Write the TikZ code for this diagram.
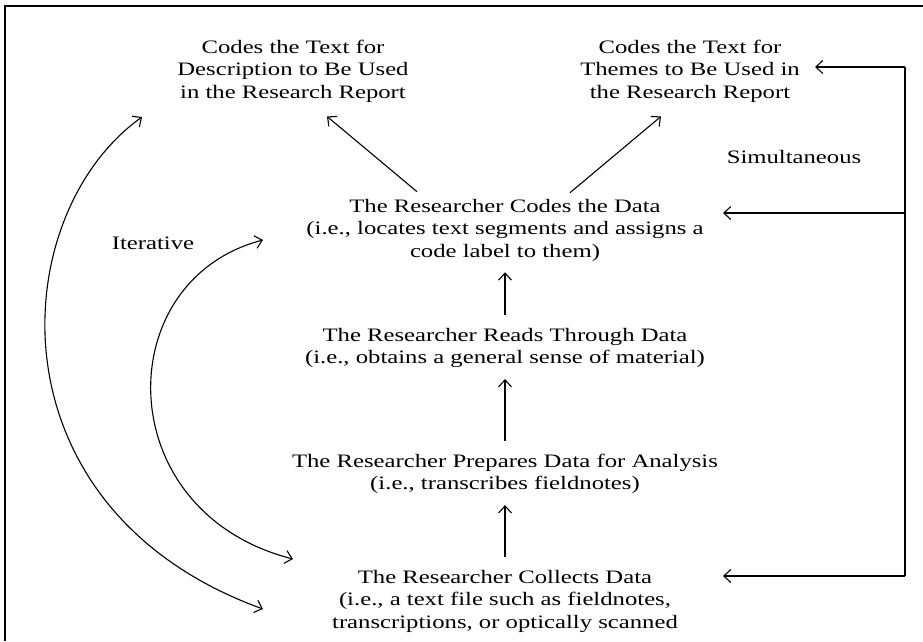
\documentclass[tikz,border=0pt]{standalone}
\usepackage{fontspec}
\setmainfont{Liberation Serif}[FakeStretch=1.3]
\usetikzlibrary{arrows.meta,calc,positioning}

\begin{document}
\begin{tikzpicture}[x=1pt,y=-1pt]
\useasboundingbox (0,0) rectangle (923,641);

\begin{scope}[every node/.style={align=center,inner sep=0pt,font=\fontsize{19}{22.5}\selectfont},barb/.style={-{Straight Barb[length=7pt,width=13pt]},line width=1.1pt},dbarb/.style={{Straight Barb[length=7pt,width=13pt]}-{Straight Barb[length=7pt,width=13pt]},line width=1.1pt}]
% frame
\draw[line width=1.6pt] (5,641) -- (5,6) -- (923,6);

% Nodes
\node (desc) at (293,71) {Codes the Text for\\Description to Be Used\\in the Research Report};
\node (themes) at (690,71) {Codes the Text for\\Themes to Be Used in\\the Research Report};
\node (codes) at (505,230) {The Researcher Codes the Data\\(i.e., locates text segments and assigns a\\code label to them)};
\node (reads) at (505,348) {The Researcher Reads Through Data\\(i.e., obtains a general sense of material)};
\node (prep) at (505,474) {The Researcher Prepares Data for Analysis\\(i.e., transcribes fieldnotes)};
\node (coll) at (505,601) {The Researcher Collects Data\\(i.e., a text file such as fieldnotes,\\transcriptions, or optically scanned};

\node (simul) at (794,157) {Simultaneous};
\node (iter) at (153,243) {Iterative};

% free ends
\coordinate (s1) at (905,67);
\coordinate (s2) at (905,213);
\coordinate (s3) at (905,576);
\coordinate (t1) at (815,67);
\coordinate (t2) at (723,213);
\coordinate (t3) at (723,576);
\coordinate (in1) at (263,240);
\coordinate (in2) at (293,559);
\coordinate (out1) at (142,117);
\coordinate (out2) at (263,609);

%arcs
\path (reads) edge[barb,shorten <=13pt,shorten >=11pt] (codes);
\path (prep) edge[barb,shorten <=13pt,shorten >=11pt] (reads);
\path (coll) edge[barb,shorten <=13pt,shorten >=11pt] (prep);

\path ([xshift=-88pt,yshift=7pt]codes.north) edge[barb] ([xshift=34pt,yshift=-14pt]desc.south);
\path ([xshift=65pt,yshift=6pt]codes.north) edge[barb] ([xshift=-29pt,yshift=-14pt]themes.south);

\draw[line width=1.1pt] (s1) -- (s3);
\path (s1) edge[barb] (t1);
\path (s2) edge[barb] (t2);
\path (s3) edge[barb] (t3);

\draw[dbarb] (in1) .. controls (109,280) and (109,512) .. (in2);
\draw[dbarb] (out1) .. controls (5,215) and (-13,509) .. (out2);

\end{scope}

\end{tikzpicture}
\end{document}
